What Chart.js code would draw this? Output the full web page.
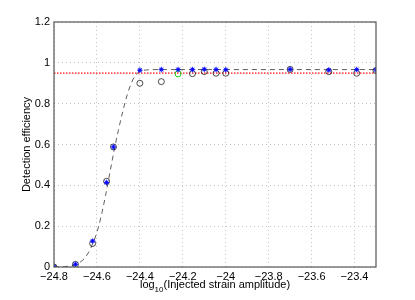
<!DOCTYPE html>
<html>
<head>
<meta charset="utf-8">
<script src="https://cdn.jsdelivr.net/npm/chart.js@4.4.0/dist/chart.umd.min.js"></script>
<style>
  html, body { margin: 0; padding: 0; background: #fff; }
  #wrap { width: 415px; height: 300px; }
</style>
</head>
<body>
<div id="wrap"><canvas id="c" width="415" height="300"></canvas></div>
<script>
// log10 of injected amplitude
const xAmp = [-24.8, -24.7, -24.62, -24.555, -24.523, -24.4, -24.3, -24.222, -24.155, -24.1, -24.045, -24.0, -23.7, -23.52, -23.39, -23.3];
// efficiency, blue markers
const blueEff = [0, 0.013, 0.127, 0.414, 0.588, 0.964, 0.967, 0.967, 0.967, 0.968, 0.967, 0.966, 0.968, 0.965, 0.967, 0.966];
// efficiency, black open circles (null where the green one sits)
const circleEff = [0, 0.013, 0.115, 0.42, 0.588, 0.900, 0.908, null, 0.947, 0.957, 0.949, 0.949, 0.968, 0.957, 0.949, 0.962];
const greenX = [-24.222];
const greenEff = [0.946];

// fitted curve
const fitX = [-24.8, -24.75, -24.7, -24.66, -24.63, -24.6, -24.58, -24.56, -24.54, -24.52, -24.5, -24.48, -24.46, -24.44, -24.42, -24.4, -24.37, -24.3, -23.3];
const fitY = [0.0, 0.002, 0.012, 0.04, 0.09, 0.17, 0.25, 0.35, 0.46, 0.57, 0.67, 0.76, 0.84, 0.90, 0.94, 0.958, 0.965, 0.967, 0.967];

const threshold = 0.95;
const xTicks = [-24.8, -24.6, -24.4, -24.2, -24, -23.8, -23.6, -23.4];
const yTicks = [0, 0.2, 0.4, 0.6, 0.8, 1, 1.2];

const FONT = '"Liberation Sans", Arial, Helvetica, sans-serif';

function pts(xs, ys) {
  return xs.map((x, i) => ({ x: x, y: ys[i] })).filter(p => p.y !== null);
}

// box + axis titles, matlab style
const framePlugin = {
  id: 'frame',
  afterDraw(chart) {
    const ctx = chart.ctx;
    const a = chart.chartArea;
    ctx.save();
    ctx.strokeStyle = '#555';
    ctx.lineWidth = 1.2;
    ctx.strokeRect(a.left, a.top, a.right - a.left, a.bottom - a.top);

    ctx.fillStyle = '#000';
    // y title
    ctx.save();
    ctx.translate(27, (a.top + a.bottom) / 2);
    ctx.rotate(-Math.PI / 2);
    ctx.font = '11px ' + FONT;
    ctx.textAlign = 'center';
    ctx.textBaseline = 'middle';
    ctx.fillText('Detection efficiency', 0, 0);
    ctx.restore();

    // x title with subscript
    const big = '11px ' + FONT, small = '8px ' + FONT;
    ctx.font = big;
    const w1 = ctx.measureText('log').width;
    const w3 = ctx.measureText('(Injected strain amplitude)').width;
    ctx.font = small;
    const w2 = ctx.measureText('10').width;
    let x = (a.left + a.right) / 2 - (w1 + w2 + w3) / 2;
    const y = 285;
    ctx.textAlign = 'left';
    ctx.textBaseline = 'middle';
    ctx.font = big;
    ctx.fillText('log', x, y);
    x += w1;
    ctx.font = small;
    ctx.fillText('10', x, y + 5);
    x += w2;
    ctx.font = big;
    ctx.fillText('(Injected strain amplitude)', x, y);
    ctx.restore();
  }
};

new Chart(document.getElementById('c'), {
  type: 'scatter',
  data: {
    datasets: [
      {
        label: 'blue star',
        data: pts(xAmp, blueEff),
        pointStyle: 'star',
        pointRadius: 2.8,
        borderColor: '#0000ff',
        borderWidth: 0.8,
        backgroundColor: '#0000ff',
        order: 0
      },
      {
        label: 'blue dot',
        data: pts(xAmp, blueEff),
        pointStyle: 'circle',
        pointRadius: 2,
        borderWidth: 0,
        backgroundColor: 'rgba(60,60,255,0.8)',
        order: 1
      },
      {
        label: 'green',
        data: pts(greenX, greenEff),
        pointStyle: 'circle',
        pointRadius: 3,
        borderColor: '#00cc00',
        borderWidth: 0.9,
        backgroundColor: 'rgba(0,0,0,0)',
        order: 2
      },
      {
        label: 'circles',
        data: pts(xAmp, circleEff),
        pointStyle: 'circle',
        pointRadius: 3,
        borderColor: '#000',
        borderWidth: 0.7,
        backgroundColor: 'rgba(0,0,0,0)',
        order: 3
      },
      {
        label: 'fit',
        data: pts(fitX, fitY),
        showLine: true,
        pointRadius: 0,
        borderColor: '#333',
        borderWidth: 0.8,
        borderDash: [5, 4],
        cubicInterpolationMode: 'monotone',
        order: 4
      },
      {
        label: 'threshold',
        data: [{ x: xTicks[0], y: threshold }, { x: -23.3, y: threshold }],
        showLine: true,
        pointRadius: 0,
        borderColor: '#ff5050',
        borderWidth: 1.8,
        borderDash: [1.5, 1.5],
        order: 5
      }
    ]
  },
  options: {
    responsive: false,
    animation: false,
    events: [],
    layout: { padding: { top: 22, right: 39, left: 0, bottom: 0 } },
    plugins: { legend: { display: false }, tooltip: { enabled: false } },
    scales: {
      x: {
        type: 'linear',
        min: -24.8,
        max: -23.3,
        afterFit(s) { s.height = 33; },
        afterBuildTicks(s) { s.ticks = xTicks.map(v => ({ value: v })); },
        border: { display: false, dash: [1, 3] },
        grid: { color: '#c4c4c4', lineWidth: 1, drawTicks: false },
        ticks: {
          color: '#000',
          padding: 3,
          maxRotation: 0,
          font: { family: FONT, size: 11 },
          callback: v => String(Math.round(v * 10) / 10).replace('-', '\u2212')
        }
      },
      y: {
        min: 0,
        max: 1.2,
        afterFit(s) { s.width = 54; },
        afterBuildTicks(s) { s.ticks = yTicks.map(v => ({ value: v })); },
        border: { display: false, dash: [1, 3] },
        grid: { color: '#c4c4c4', lineWidth: 1, drawTicks: false },
        ticks: {
          color: '#000',
          padding: 4,
          font: { family: FONT, size: 11 },
          callback: v => String(Math.round(v * 10) / 10)
        }
      }
    }
  },
  plugins: [framePlugin]
});
</script>
</body>
</html>
